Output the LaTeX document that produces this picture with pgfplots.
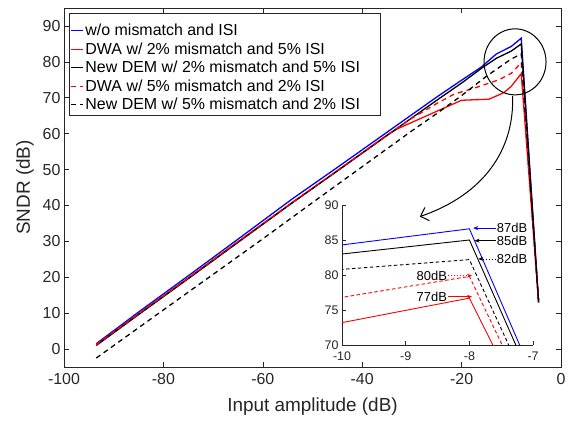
\documentclass[border=0pt]{standalone}
\usepackage{fontspec}
\setmainfont{Liberation Sans}
\usepackage{pgfplots}
\pgfplotsset{compat=1.18}
\usepackage{pgfplotstable}
\usetikzlibrary{arrows.meta,calc}

\pgfplotstableread{
x y
-93.5 1.5
-85 10.3
-75 20.4
-65 30.6
-54 41.9
-45 50.6
-35 60.4
-30 65.3
-25 70.2
-20 74.9
-16 78.6
-13 82.2
-10 84.3
-8 86.6
-4.5 13
}\dataBlue

\pgfplotstableread{
x y
-93.5 1.2
-85 9.8
-75 19.8
-65 29.9
-54 40.9
-45 49.7
-35 59.6
-33 61.3
-20 69.3
-14.5 69.6
-11.5 71.4
-10 73.2
-8 76.7
-4.5 13
}\dataRed

\pgfplotstableread{
x y
-93.5 1.0
-85 9.6
-75 19.6
-65 29.7
-54 40.8
-45 49.6
-35 59.5
-30 64.4
-25 69.3
-20 74.1
-16 78.2
-13 81.0
-10 83.0
-8 85.0
-4.5 13
}\dataBlack

\pgfplotstableread{
x y
-93.5 1.2
-85 9.8
-75 19.8
-65 29.9
-54 40.9
-45 49.7
-35 59.6
-30 64.3
-25 68.4
-21.5 71.0
-17 72.9
-12.5 75.0
-10 76.8
-8 79.8
-4.5 13
}\dataRedDash

\pgfplotstableread{
x y
-93.5 -2.5
-80 10.9
-60 30.7
-50 40.8
-40 50.8
-30 60.8
-25 65.6
-20 70.6
-15 76.0
-10 80.8
-8 82.2
-4.5 13
}\dataBlackDash

\definecolor{axgray}{rgb}{0.15,0.15,0.15}

\begin{document}
\begin{tikzpicture}
\begin{axis}[
  name=main,
  scale only axis, width=497bp, height=359bp,
  xmin=-100, xmax=0, ymin=-5, ymax=95,
  xtick={-100,-80,...,0}, ytick={0,10,...,90},
  tick align=inside, major tick length=5bp,
  axis line style={draw=axgray, line width=0.6bp},
  tick style={draw=axgray, line width=0.6bp},
  ticklabel style={font=\fontsize{16}{19}\selectfont, text=axgray},
  xticklabel style={yshift=-3bp},
  label style={font=\fontsize{19}{22}\selectfont, text=axgray},
  xlabel style={yshift=-6bp},
  ylabel style={yshift=2bp},
  /pgf/number format/assume math mode=true,
  xlabel={Input amplitude (dB)}, ylabel={SNDR (dB)},
  legend cell align=left,
  legend style={at={(0,1)}, anchor=north west, xshift=5bp, yshift=-13bp,
    font=\fontsize{16}{20}\selectfont, draw=none, fill=none,
    inner xsep=1bp, inner ysep=1bp, row sep=1.5bp},
]
\draw[axgray, line width=0.5bp, fill=white] ($(rel axis cs:0,1)+(5bp,-5bp)$) rectangle ++(311bp,-102bp);
\addplot[blue, line width=1.3bp,
  legend image code/.code={\draw[blue, line width=1.3bp] (0bp,0bp) -- (12bp,0bp);}]
  table[x=x,y=y] {\dataBlue};
\addlegendentry{w/o mismatch and ISI}
\addplot[red, line width=1.3bp,
  legend image code/.code={\draw[red, line width=1.3bp] (0bp,0bp) -- (12bp,0bp);}]
  table[x=x,y=y] {\dataRed};
\addlegendentry{DWA w/ 2\% mismatch and 5\% ISI}
\addplot[black, line width=1.3bp,
  legend image code/.code={\draw[black, line width=1.3bp] (0bp,0bp) -- (12bp,0bp);}]
  table[x=x,y=y] {\dataBlack};
\addlegendentry{New DEM w/ 2\% mismatch and 5\% ISI}
\addplot[red, line width=1.3bp, dash pattern=on 5bp off 4bp,
  legend image code/.code={\draw[red, line width=1.3bp, dash pattern=on 5bp off 4bp] (0bp,0bp) -- (12bp,0bp);}]
  table[x=x,y=y] {\dataRedDash};
\addlegendentry{DWA w/ 5\% mismatch and 2\% ISI}
\addplot[black, line width=1.3bp, dash pattern=on 5bp off 4bp,
  legend image code/.code={\draw[black, line width=1.3bp, dash pattern=on 5bp off 4bp] (0bp,0bp) -- (12bp,0bp);}]
  table[x=x,y=y] {\dataBlackDash};
\addlegendentry{New DEM w/ 5\% mismatch and 2\% ISI}

\draw[black, line width=1bp] (axis cs:-9.25,80) ellipse [x radius=31bp, y radius=33bp];
\draw[black, line width=1bp, -{Straight Barb[length=7bp, width=14bp, line width=1bp]}]
  (axis cs:-9.75,70.5) .. controls (axis cs:-9.35,55.7) and (axis cs:-15.4,43.1) .. (axis cs:-28.4,36.9);
\end{axis}

\begin{axis}[
  at={($(main.south west)+(278bp,22bp)$)}, anchor=south west,
  scale only axis, width=191bp, height=140bp,
  xmin=-10, xmax=-7, ymin=70, ymax=90,
  axis x line*=bottom, axis y line*=left,
  xtick={-10,-9,-8,-7}, ytick={70,75,80,85,90},
  tick align=inside, major tick length=4bp,
  axis line style={draw=axgray, line width=0.6bp},
  tick style={draw=axgray, line width=0.6bp},
  ticklabel style={font=\fontsize{12.5}{14}\selectfont, text=axgray},
  xticklabel style={yshift=-3bp},
  /pgf/number format/assume math mode=true,
  clip mode=individual,
]
\addplot[blue, line width=0.9bp] table[x=x,y=y] {\dataBlue};
\addplot[red, line width=0.9bp] table[x=x,y=y] {\dataRed};
\addplot[black, line width=0.9bp] table[x=x,y=y] {\dataBlack};
\addplot[red, line width=0.9bp, dash pattern=on 3.5bp off 2.5bp] table[x=x,y=y] {\dataRedDash};
\addplot[black, line width=0.9bp, dash pattern=on 3.5bp off 2.5bp] table[x=x,y=y] {\dataBlackDash};

\draw[blue, line width=0.6bp, -{Stealth[length=5bp,width=4bp]}] (axis cs:-7.58,86.7) -- (axis cs:-7.94,86.7);
\node[anchor=west, inner sep=0pt, font=\fontsize{13}{15}\selectfont] at (axis cs:-7.57,86.7) {87dB};
\draw[black, line width=0.6bp, -{Stealth[length=5bp,width=4bp]}] (axis cs:-7.58,84.9) -- (axis cs:-7.92,84.9);
\node[anchor=west, inner sep=0pt, font=\fontsize{13}{15}\selectfont] at (axis cs:-7.57,84.9) {85dB};
\draw[black, line width=0.6bp, dash pattern=on 1.5bp off 1.5bp, -{Stealth[length=5bp,width=4bp]}] (axis cs:-7.58,82.3) -- (axis cs:-7.86,82.3);
\node[anchor=west, inner sep=0pt, font=\fontsize{13}{15}\selectfont] at (axis cs:-7.57,82.3) {82dB};
\draw[red, line width=0.6bp, dash pattern=on 1.5bp off 1.5bp, -{Stealth[length=5bp,width=4bp]}] (axis cs:-8.34,79.9) -- (axis cs:-7.96,79.9);
\node[anchor=east, inner sep=0pt, font=\fontsize{13}{15}\selectfont] at (axis cs:-8.35,79.9) {80dB};
\draw[red, line width=0.6bp, -{Stealth[length=5bp,width=4bp]}] (axis cs:-8.34,76.9) -- (axis cs:-7.96,76.9);
\node[anchor=east, inner sep=0pt, font=\fontsize{13}{15}\selectfont] at (axis cs:-8.35,76.9) {77dB};
\end{axis}

\pgfresetboundingbox
\path ($(main.south west)+(-64bp,-55bp)$) rectangle ($(main.north east)+(14bp,8bp)$);
\end{tikzpicture}
\end{document}
